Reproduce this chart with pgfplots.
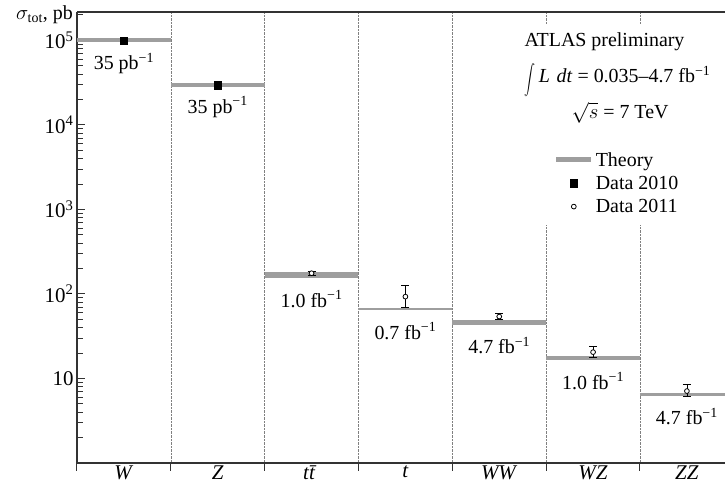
\documentclass[border=0pt]{standalone}
\usepackage{fontspec}
\setmainfont{Liberation Serif}
\usepackage{graphicx}
\usepackage{pgfplots}
\pgfplotsset{compat=1.18}
\definecolor{theory}{gray}{0.62}
\pgfplotsset{
  markleg/.style={legend image code/.code={\draw[mark repeat=2,mark phase=2,##1] plot coordinates {(0bp,0bp) (17.5bp,0bp) (35bp,0bp)};}},
  theoryleg/.style={legend image code/.code={\draw[theory, line width=5bp] (0bp,0bp) -- (35bp,0bp);}},
}
\begin{document}
\begin{tikzpicture}[font=\fontsize{20}{23}\selectfont]
\begin{axis}[
  scale only axis, width=648bp, height=451bp,
  xmin=0, xmax=6.906, ymode=log, ymin=1, ymax=2.17e5,
  axis lines=left, axis line style={-, line width=1.1bp, black!80},
  xtick={0,1,2,3,4,5,6}, xticklabels={},
  xtick align=outside, ytick align=inside,
  extra x ticks={0.5,1.5,2.5,3.5,4.5,5.5,6.5},
  extra x tick labels={\textit{W},\textit{Z},\textit{t\={t}},\textit{t},\textit{WW},\textit{WZ},\textit{ZZ}},
  extra x tick style={major tick length=0pt, grid=none},
  x tick label style={font=\fontsize{21}{24}\selectfont, yshift=1bp},
  y tick label style={font=\fontsize{21}{24}\selectfont},
  xmajorgrids, major grid style={densely dotted, gray, line width=0.6bp},
  ytick={10,100,1000,10000,100000},
  yticklabels={10,10\textsuperscript{2},10\textsuperscript{3},10\textsuperscript{4},10\textsuperscript{5}},
  minor ytick={2,3,4,5,6,7,8,9,20,30,40,50,60,70,80,90,200,300,400,500,600,700,800,900,2000,3000,4000,5000,6000,7000,8000,9000,20000,30000,40000,50000,60000,70000,80000,90000,200000},
  major tick length=8bp, minor tick length=6bp,
  tick style={line width=1bp, black!80},
  clip=false,
  legend cell align=left,
  legend style={draw=none, fill=none, at={(rel axis cs:0.7355,0.694)}, anchor=north west,
    row sep=4.5bp, inner sep=0pt, font=\fontsize{20}{22}\selectfont},
]
\coordinate (ll) at (rel axis cs:0,0);
\coordinate (ur) at (rel axis cs:1,1);
\draw[line width=1.1bp, black!80] (rel axis cs:0,1) -- (rel axis cs:1,1);
\fill[white] (rel axis cs:0.69,0.971) rectangle (rel axis cs:0.997,0.528);
% theory
\addplot[theory, line width=4bp, theoryleg] coordinates {(0,1.0e5) (1,1.0e5)};
\addlegendentry{Theory}
\addplot[theory, line width=3.5bp, forget plot] coordinates {(1,2.95e4) (2,2.95e4)};
\addplot[theory, line width=6.5bp, forget plot] coordinates {(2,167) (3,167)};
\addplot[theory, line width=2.5bp, forget plot] coordinates {(3,66) (4,66)};
\addplot[theory, line width=4.5bp, forget plot] coordinates {(4,46) (5,46)};
\addplot[theory, line width=4bp, forget plot] coordinates {(5,17.4) (6,17.4)};
\addplot[theory, line width=2.5bp, forget plot] coordinates {(6,6.5) (6.906,6.5)};
% data 2010
\addplot[only marks, mark=square*, mark size=3.7bp, black, markleg]
  coordinates {(0.5,9.9e4) (1.5,2.95e4)};
\addlegendentry{Data 2010}
% data 2011
\addplot[only marks, mark=*, mark size=2.4bp, black, mark options={fill=white, line width=0.8bp}, markleg,
  error bars/.cd, y dir=both, y explicit,
  error bar style={line width=0.8bp, black},
  error mark options={rotate=90, mark size=4bp, line width=0.8bp, black}]
  coordinates {
  (2.5,176) += (0,8) -= (0,8)
  (3.5,93) += (0,35) -= (0,23)
  (4.5,54) += (0,5) -= (0,4)
  (5.5,20.5) += (0,3.6) -= (0,2.9)
  (6.5,7.1) += (0,1.4) -= (0,0.9)
  };
\addlegendentry{Data 2011}
% luminosity labels
\node[yshift=-23bp] at (axis cs:0.5,1.0e5) {35 pb\textsuperscript{−1}};
\node[yshift=-22bp] at (axis cs:1.5,2.95e4) {35 pb\textsuperscript{−1}};
\node[yshift=-24bp] at (axis cs:2.5,167) {1.0 fb\textsuperscript{−1}};
\node[yshift=-22bp] at (axis cs:3.5,66) {0.7 fb\textsuperscript{−1}};
\node[yshift=-23bp] at (axis cs:4.5,46) {4.7 fb\textsuperscript{−1}};
\node[yshift=-23bp] at (axis cs:5.5,17.4) {1.0 fb\textsuperscript{−1}};
\node[yshift=-22bp] at (axis cs:6.5,6.5) {4.7 fb\textsuperscript{−1}};
% annotation
\node[font=\fontsize{20}{22}\selectfont, inner sep=0pt] at (rel axis cs:0.814,0.934) {ATLAS preliminary};
\node[font=\fontsize{20}{22}\selectfont, anchor=west, inner sep=0pt] at (rel axis cs:0.6905,0.861) {\smash{\raisebox{-0.25em}{\scalebox{1.1}[1.5]{$\displaystyle\int$}}}\,\textit{L}\,\,\textit{dt} = 0.035–4.7 fb\textsuperscript{−1}};
\node[font=\fontsize{20}{22}\selectfont, inner sep=0pt] at (rel axis cs:0.838,0.776) {$\sqrt{s}$ = 7 TeV};
\node[anchor=east, inner sep=1pt] at (rel axis cs:0,1) [xshift=-3bp, yshift=-3bp] {$\sigma_{\mathrm{tot}}$, pb};
\end{axis}
\pgfresetboundingbox
\path ([shift={(-77bp,-26bp)}]ll) rectangle ([shift={(1bp,12bp)}]ur);
\end{tikzpicture}
\end{document}
